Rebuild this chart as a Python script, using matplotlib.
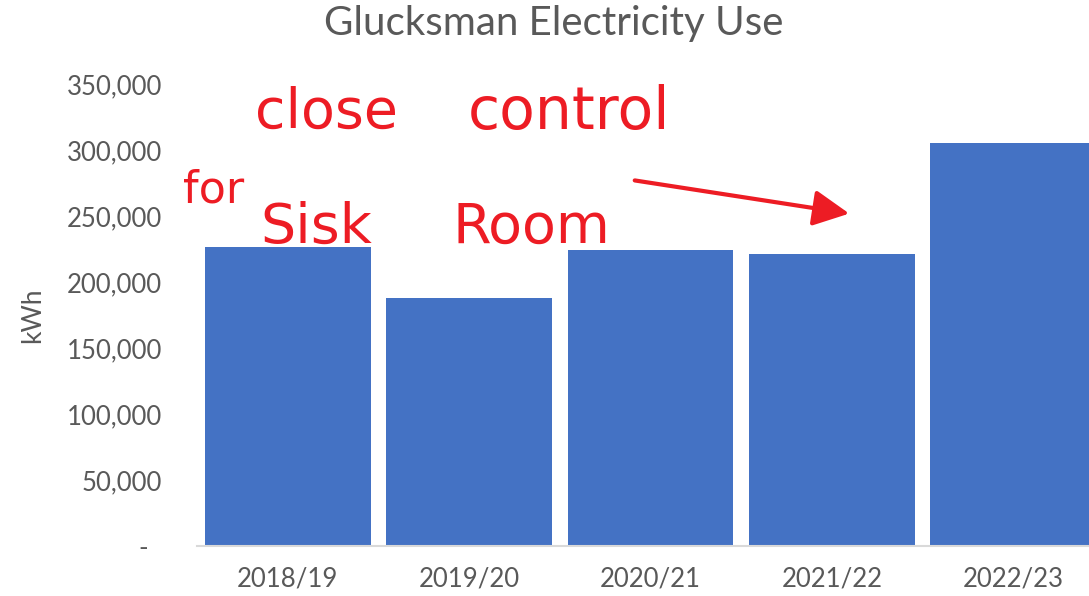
import matplotlib.pyplot as plt
from matplotlib.ticker import FuncFormatter

years = ["2018/19", "2019/20", "2020/21", "2021/22", "2022/23"]
kwh = [226500, 188000, 224000, 221000, 305000]
yticks = [0, 50000, 100000, 150000, 200000, 250000, 300000, 350000]

plt.rcParams['font.family'] = ['Lato', 'DejaVu Sans']
grey = '#595959'
red = '#ED1C24'

fig = plt.figure(figsize=(10.89, 5.96), dpi=100)
ax = fig.add_axes([197 / 1089, 1 - 546 / 596, (1104 - 197) / 1089, (546 - 84) / 596])

ax.bar(range(len(years)), kwh, width=0.915, color='#4472C4')
ax.set_xlim(-0.5, len(years) - 0.5)
ax.set_ylim(0, 350000)
ax.set_yticks(yticks)
ax.yaxis.set_major_formatter(FuncFormatter(lambda v, p: '-  ' if v == 0 else f'{int(v):,}'))
ax.set_xticks(range(len(years)))
ax.set_xticklabels(years)
ax.tick_params(axis='both', length=0, labelsize=18.5, labelcolor=grey)
ax.tick_params(axis='y', pad=25)
ax.tick_params(axis='x', pad=15)
ax.set_ylabel('kWh', fontsize=19, color=grey, labelpad=16)

for s in ['top', 'right', 'left']:
    ax.spines[s].set_visible(False)
ax.spines['bottom'].set_color('#d9d9d9')
ax.spines['bottom'].set_linewidth(1.5)

fig.text(554 / 1089, 1 - 24 / 596, 'Glucksman Electricity Use', ha='center', va='center',
         fontsize=29, color=grey)

# handwritten note
def fx(x, y):
    return (x / 1089, 1 - y / 596)

hand = dict(color=red, va='center', family=['DejaVu Sans'])
fig.text(*fx(255, 113), 'close', fontsize=40, **hand)
fig.text(*fx(468, 113), 'control', fontsize=42, **hand)
fig.text(*fx(183, 190), 'for', fontsize=32, **hand)
fig.text(*fx(260, 228), 'Sisk', fontsize=40, **hand)
fig.text(*fx(452, 228), 'Room', fontsize=40, **hand)
ax.annotate('', xy=fx(852, 214), xycoords='figure fraction', xytext=fx(632, 180),
            textcoords='figure fraction',
            arrowprops=dict(arrowstyle='-|>,head_length=2.2,head_width=1.1', color=red, lw=3))

fig.savefig('out.png', dpi=100)
